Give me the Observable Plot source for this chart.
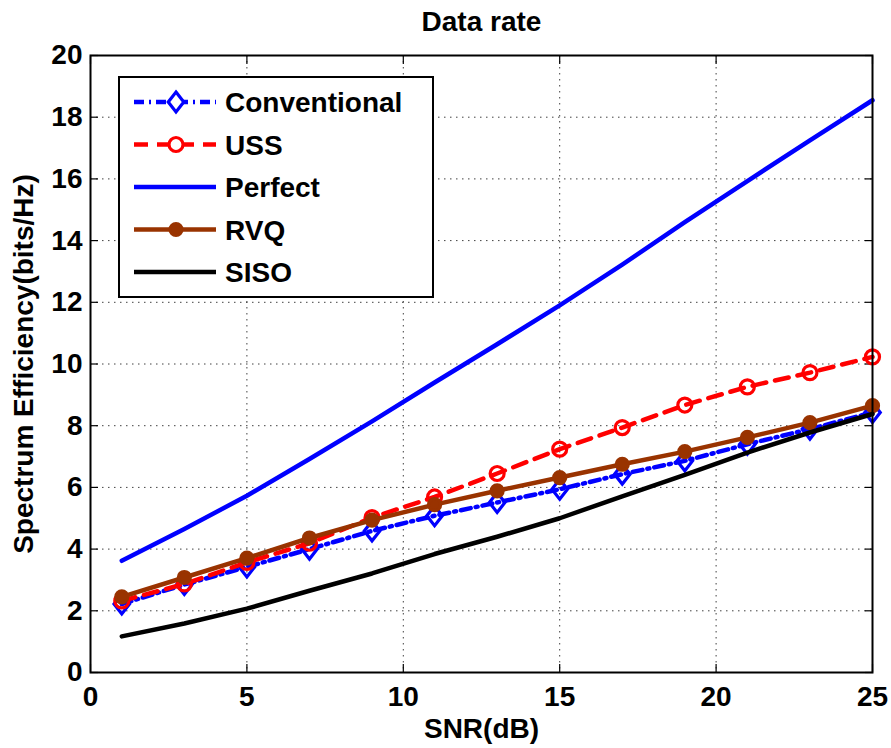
<!DOCTYPE html>
<html>
<head>
<meta charset="utf-8">
<script src="https://cdn.jsdelivr.net/npm/d3@7"></script>
<script src="https://cdn.jsdelivr.net/npm/@observablehq/plot@0.6"></script>
<style>
  body { margin: 0; background: #fff; }
  #wrap { position: relative; width: 891px; height: 748px; font-family: "Liberation Sans", Arial, Helvetica, sans-serif; }
  #legend { position: absolute; left: 118px; top: 76px; width: 312px; height: 218px; border: 2px solid #000; background: #fff; }
</style>
</head>
<body>
<div id="wrap"><div id="legend"></div></div>
<script>
const snr = [1, 3, 5, 7, 9, 11, 13, 15, 17, 19, 21, 23, 25];
const conventional = [2.22, 2.85, 3.42, 4.0, 4.59, 5.08, 5.51, 5.94, 6.43, 6.86, 7.40, 7.89, 8.43];
const uss = [2.32, 2.87, 3.57, 4.19, 5.02, 5.69, 6.45, 7.24, 7.94, 8.67, 9.26, 9.72, 10.23];
const perfect = [3.62, 4.65, 5.73, 6.92, 8.14, 9.40, 10.64, 11.9, 13.22, 14.6, 15.93, 17.25, 18.55];
const rvq = [2.45, 3.08, 3.71, 4.36, 4.94, 5.44, 5.89, 6.32, 6.75, 7.16, 7.62, 8.10, 8.65];
const siso = [1.17, 1.59, 2.07, 2.65, 3.21, 3.84, 4.40, 5.0, 5.71, 6.41, 7.13, 7.78, 8.38];
const xTicks = [0, 5, 10, 15, 20, 25];
const yTicks = [0, 2, 4, 6, 8, 10, 12, 14, 16, 18, 20];
const title = "Data rate";
const xLabel = "SNR(dB)";
const yLabel = "Spectrum Efficiency(bits/Hz)";

// MATLAB-like diamond: taller than wide
const tallDiamond = {
  draw(context, size) {
    const h = Math.sqrt(size) * 0.62625 * 1.12;
    const w = h * 0.78;
    context.moveTo(0, -h);
    context.lineTo(w, 0);
    context.lineTo(0, h);
    context.lineTo(-w, 0);
    context.closePath();
  }
};

const series = [
  {name: "Conventional", values: conventional, color: "#0000ff", dash: "10,5,2,5", symbol: tallDiamond, fill: "none", r: 8},
  {name: "USS", values: uss, color: "#ff0000", dash: "14,9", symbol: d3.symbolCircle, fill: "none", r: 7},
  {name: "Perfect", values: perfect, color: "#0000ff", dash: null, symbol: null},
  {name: "RVQ", values: rvq, color: "#993300", dash: null, symbol: d3.symbolCircle, fill: "#993300", r: 6},
  {name: "SISO", values: siso, color: "#000000", dash: null, symbol: null}
];
const rows = s => snr.map((x, i) => ({x, y: s.values[i]}));

const font = {fontSize: 28, fontWeight: "bold"};
const marks = [
  Plot.gridX(xTicks, {stroke: "#000", strokeOpacity: 0.75, strokeDasharray: "1.5,4.5", strokeWidth: 1}),
  Plot.gridY(yTicks, {stroke: "#000", strokeOpacity: 0.75, strokeDasharray: "1.5,4.5", strokeWidth: 1}),
  Plot.axisX(xTicks, {anchor: "bottom", tickSize: 0, tickPadding: 14, ...font, label: null}),
  Plot.axisY(yTicks, {anchor: "left", tickSize: 0, tickPadding: 8, ...font, label: null}),
  Plot.axisX(xTicks, {anchor: "bottom", tickSize: -8, text: null, label: null, strokeWidth: 1.2}),
  Plot.axisX(xTicks, {anchor: "top", tickSize: -8, text: null, label: null, strokeWidth: 1.2}),
  Plot.axisY(yTicks, {anchor: "left", tickSize: -8, text: null, label: null, strokeWidth: 1.2}),
  Plot.axisY(yTicks, {anchor: "right", tickSize: -8, text: null, label: null, strokeWidth: 1.2})
];
for (const s of series) {
  marks.push(Plot.line(rows(s), {x: "x", y: "y", stroke: s.color, strokeWidth: 4.5, strokeDasharray: s.dash || undefined}));
  if (s.symbol) {
    marks.push(Plot.dot(rows(s), {x: "x", y: "y", symbol: s.symbol, r: s.r, stroke: s.color, strokeWidth: 3.2, fill: s.fill}));
  }
}
marks.push(Plot.frame({stroke: "#000", strokeWidth: 2}));
marks.push(Plot.text([title], {frameAnchor: "top", dy: -33, lineAnchor: "middle", textAnchor: "middle", ...font}));
marks.push(Plot.text([xLabel], {frameAnchor: "bottom", dy: 57, lineAnchor: "middle", textAnchor: "middle", ...font}));
marks.push(Plot.text([yLabel], {frameAnchor: "left", rotate: -90, dx: -66, lineAnchor: "middle", textAnchor: "middle", ...font}));

const chart = Plot.plot({
  width: 891,
  height: 748,
  marginLeft: 90,
  marginRight: 19,
  marginTop: 55,
  marginBottom: 76,
  style: {fontFamily: "'Liberation Sans', Arial, Helvetica, sans-serif", background: "#fff", color: "#000", overflow: "visible"},
  x: {domain: [0, 25]},
  y: {domain: [0, 20]},
  marks
});
document.getElementById("wrap").prepend(chart);

// legend
const lw = 312, lh = 218;
const leg = d3.select("#legend").append("svg").attr("width", lw).attr("height", lh).style("display", "block");
series.forEach((s, i) => {
  const cy = 24 + i * 42.5;
  const g = leg.append("g").attr("transform", `translate(0,${cy})`);
  g.append("line").attr("x1", 14).attr("x2", 96).attr("y1", 0).attr("y2", 0)
    .attr("stroke", s.color).attr("stroke-width", 4.5).attr("stroke-dasharray", s.dash);
  if (s.symbol) {
    g.append("path").attr("transform", "translate(56,0)")
      .attr("d", d3.symbol(s.symbol, Math.PI * s.r * s.r)())
      .attr("fill", s.fill === "none" ? "#fff" : s.fill)
      .attr("stroke", s.color).attr("stroke-width", 3.2);
  }
  g.append("text").attr("x", 105).attr("y", 0).attr("dy", "0.36em")
    .attr("font-size", 28).attr("font-weight", "bold")
    .attr("font-family", "'Liberation Sans', Arial, Helvetica, sans-serif")
    .text(s.name);
});
</script>
</body>
</html>
